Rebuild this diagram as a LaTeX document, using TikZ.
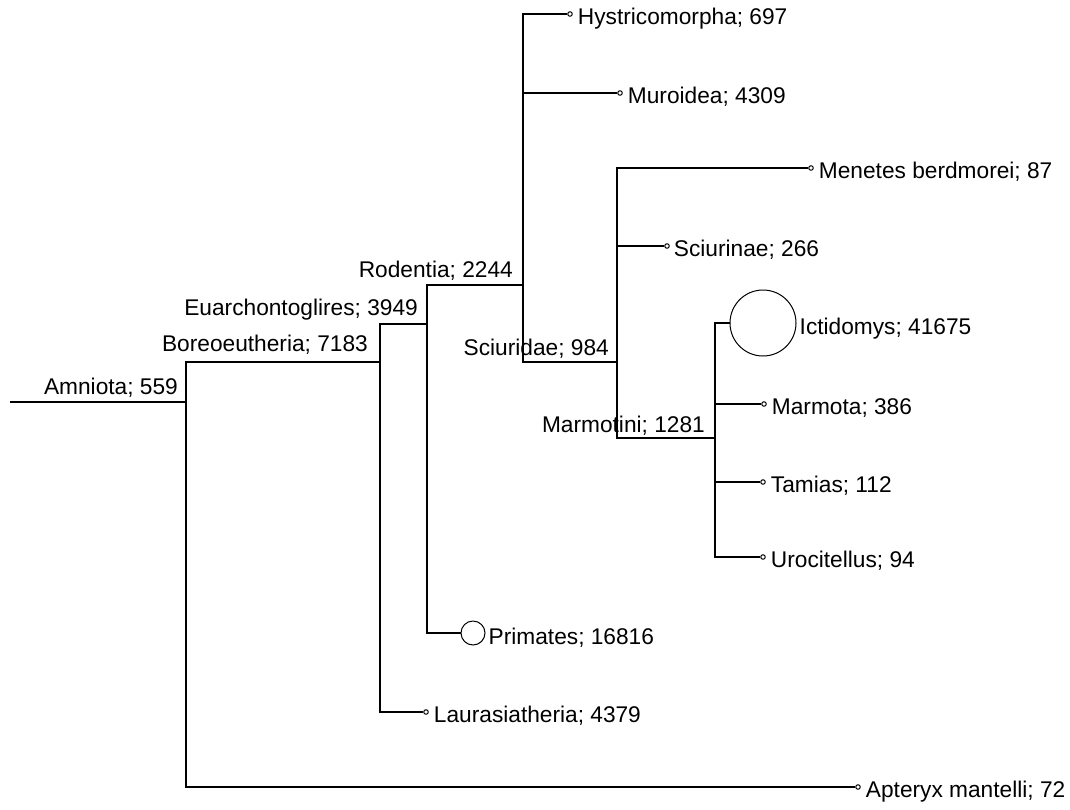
\documentclass[tikz,border=0pt]{standalone}
\usepackage{fontspec}
\setmainfont{Liberation Sans}
\usepackage{tikz}

\begin{document}
\begin{tikzpicture}[x=1pt,y=-1pt,
  branch/.style={line width=1.4pt},
  tipdot/.style={circle,draw,line width=1pt,inner sep=0pt,minimum size=4.5pt},
  taxon/.style={font=\fontsize{22.7}{27}\selectfont,inner sep=0pt,anchor=base west},
  clade/.style={font=\fontsize{22.7}{27}\selectfont,inner sep=0pt,anchor=base east}]
\path[use as bounding box] (0,0) rectangle (1070,809);
\coordinate (root) at (10,402);
\coordinate (amniota) at (186,402);
\coordinate (boreo) at (380,362);
\coordinate (euarch) at (427,324);
\coordinate (rodentia) at (523,285);
\coordinate (sciuridae) at (617,362);
\coordinate (marmotini) at (715,438);
\node[tipdot] (hystrico) at (570,14) {};
\node[tipdot] (muroidea) at (620,93) {};
\node[tipdot] (menetes) at (811,168) {};
\node[tipdot] (sciurinae) at (667,246) {};
\node[tipdot,minimum size=66pt] (ictidomys) at (763,323) {};
\node[tipdot] (marmota) at (764,404) {};
\node[tipdot] (tamias) at (763,482) {};
\node[tipdot] (urocitellus) at (763,557) {};
\node[tipdot,minimum size=24pt] (primates) at (473,633) {};
\node[tipdot] (laurasia) at (426,712) {};
\node[tipdot] (apteryx) at (858,787) {};
\draw[branch] (root) -- (amniota);
\draw[branch] (amniota) |- (boreo);
\draw[branch] (amniota) |- (apteryx);
\draw[branch] (boreo) |- (euarch);
\draw[branch] (boreo) |- (laurasia);
\draw[branch] (euarch) |- (rodentia);
\draw[branch] (euarch) |- (primates);
\draw[branch] (rodentia) |- (hystrico);
\draw[branch] (rodentia) |- (muroidea);
\draw[branch] (rodentia) |- (sciuridae);
\draw[branch] (sciuridae) |- (menetes);
\draw[branch] (sciuridae) |- (sciurinae);
\draw[branch] (sciuridae) |- (marmotini);
\draw[branch] (marmotini) |- (ictidomys);
\draw[branch] (marmotini) |- (marmota);
\draw[branch] (marmotini) |- (tamias);
\draw[branch] (marmotini) |- (urocitellus);
\node[clade] (amniota-l) at ([xshift=-8pt,yshift=8pt]amniota) {Amniota; 559};
\node[clade] (boreo-l) at ([xshift=-12pt,yshift=11pt]boreo) {Boreoeutheria; 7183};
\node[clade] (euarch-l) at ([xshift=-9pt,yshift=9pt]euarch) {Euarchontoglires; 3949};
\node[clade] (rodentia-l) at ([xshift=-10pt,yshift=8pt]rodentia) {Rodentia; 2244};
\node[clade] (sciuridae-l) at ([xshift=-8pt,yshift=7pt]sciuridae) {Sciuridae; 984};
\node[clade] (marmotini-l) at ([xshift=-10pt,yshift=6pt]marmotini) {Marmotini; 1281};
\node[taxon] (hystrico-l) at ([xshift=5pt,yshift=-10pt]hystrico.east) {Hystricomorpha; 697};
\node[taxon] (muroidea-l) at ([xshift=5pt,yshift=-10pt]muroidea.east) {Muroidea; 4309};
\node[taxon] (menetes-l) at ([xshift=5pt,yshift=-10pt]menetes.east) {Menetes berdmorei; 87};
\node[taxon] (sciurinae-l) at ([xshift=4pt,yshift=-10pt]sciurinae.east) {Sciurinae; 266};
\node[taxon] (ictidomys-l) at ([xshift=3pt,yshift=-11pt]ictidomys.east) {Ictidomys; 41675};
\node[taxon] (marmota-l) at ([xshift=5pt,yshift=-10pt]marmota.east) {Marmota; 386};
\node[taxon] (tamias-l) at ([xshift=5pt,yshift=-10pt]tamias.east) {Tamias; 112};
\node[taxon] (urocitellus-l) at ([xshift=5pt,yshift=-10pt]urocitellus.east) {Urocitellus; 94};
\node[taxon] (primates-l) at ([xshift=3pt,yshift=-11pt]primates.east) {Primates; 16816};
\node[taxon] (laurasia-l) at ([xshift=5pt,yshift=-10pt]laurasia.east) {Laurasiatheria; 4379};
\node[taxon] (apteryx-l) at ([xshift=5pt,yshift=-10pt]apteryx.east) {Apteryx mantelli; 72};
\end{tikzpicture}
\end{document}
